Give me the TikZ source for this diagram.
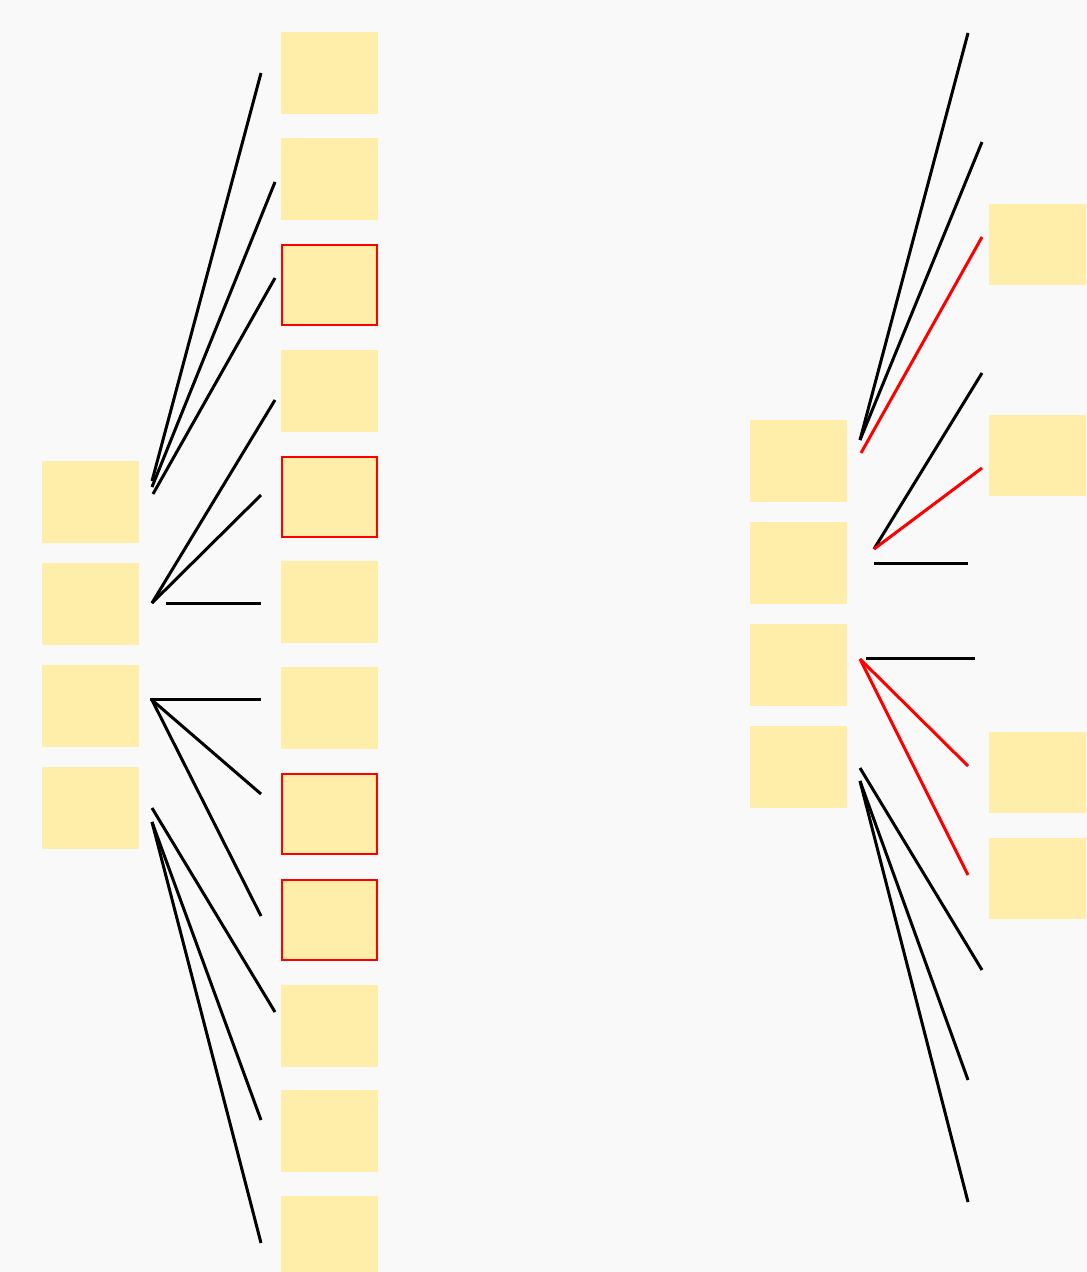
\documentclass[tikz,border=0pt]{standalone}
\definecolor{bg}{HTML}{F9F9F9}
\definecolor{boxfill}{HTML}{FFEEAA}
\tikzset{
  box/.style={fill=boxfill, draw=none, minimum width=97pt, minimum height=82pt, inner sep=0pt, anchor=north west, outer sep=0pt},
  redbox/.style={box, draw=red, line width=2pt, minimum width=95pt, minimum height=80pt},
  conn/.style={line width=3pt, black},
  rconn/.style={line width=3pt, red},
}
\begin{document}
\begin{tikzpicture}[x=1pt,y=-1pt]
\useasboundingbox (0,0) rectangle (1087,1272);
\fill[bg] (0,0) rectangle (1087,1272);
\clip (0,0) rectangle (1087,1272);
% left column
\node[box] (L1) at (42,461) {};
\node[box] (L2) at (42,563) {};
\node[box] (L3) at (42,665) {};
\node[box] (L4) at (42,767) {};
% middle column
\node[box] (M1) at (281,32) {};
\node[box] (M2) at (281,138) {};
\node[redbox] (M3) at (282,245) {};
\node[box] (M4) at (281,350) {};
\node[redbox] (M5) at (282,457) {};
\node[box] (M6) at (281,561) {};
\node[box] (M7) at (281,667) {};
\node[redbox] (M8) at (282,774) {};
\node[redbox] (M9) at (282,880) {};
\node[box] (M10) at (281,985) {};
\node[box] (M11) at (281,1090) {};
\node[box] (M12) at (281,1196) {};
% right-left column
\node[box] (R1) at (750,420) {};
\node[box] (R2) at (750,522) {};
\node[box] (R3) at (750,624) {};
\node[box] (R4) at (750,726) {};
% right column
\node[box, minimum height=81pt] (S1) at (989,204) {};
\node[box, minimum height=81pt] (S2) at (989,415) {};
\node[box, minimum height=81pt] (S3) at (989,732) {};
\node[box, minimum height=81pt] (S4) at (989,838) {};
% left fans
\coordinate (a1) at (152,481); \coordinate (a1e) at (261,73);
\coordinate (a2) at (152,487); \coordinate (a2e) at (275,182);
\coordinate (a3) at (153,494); \coordinate (a3e) at (275,278);
\draw[conn] (a1) -- (a1e);
\draw[conn] (a2) -- (a2e);
\draw[conn] (a3) -- (a3e);
\coordinate (b0) at (152,603);
\coordinate (b1e) at (275,400); \coordinate (b2e) at (261,495);
\coordinate (b3) at (166,603); \coordinate (b3e) at (261,603);
\draw[conn] (b0) -- (b1e);
\draw[conn] (b0) -- (b2e);
\draw[conn] (b3) -- (b3e);
\coordinate (c0) at (150,699); \coordinate (c1e) at (261,699);
\coordinate (c2) at (152,700); \coordinate (c2e) at (261,794); \coordinate (c3e) at (261,916);
\draw[conn] (c0) -- (c1e);
\draw[conn] (c2) -- (c2e);
\draw[conn] (c2) -- (c3e);
\coordinate (d1) at (152,808); \coordinate (d1e) at (275,1012);
\coordinate (d2) at (152,822); \coordinate (d2e) at (261,1120); \coordinate (d3e) at (261,1243);
\draw[conn] (d1) -- (d1e);
\draw[conn] (d2) -- (d2e);
\draw[conn] (d2) -- (d3e);
% right fans
\coordinate (e0) at (860,440); \coordinate (e1e) at (968,33); \coordinate (e2e) at (982,142);
\coordinate (e3) at (861,453); \coordinate (e3e) at (982,237);
\draw[conn] (e0) -- (e1e);
\draw[conn] (e0) -- (e2e);
\draw[rconn] (e3) -- (e3e);
\coordinate (f0) at (874,549); \coordinate (f1e) at (982,373); \coordinate (f2e) at (982,468);
\coordinate (f3) at (874,563); \coordinate (f3e) at (968,563);
\draw[conn] (f0) -- (f1e);
\draw[rconn] (f0) -- (f2e);
\draw[conn] (f3) -- (f3e);
\coordinate (g1) at (866,658); \coordinate (g1e) at (975,658);
\coordinate (g0) at (860,659); \coordinate (g2e) at (968,766); \coordinate (g3e) at (968,875);
\draw[conn] (g1) -- (g1e);
\draw[rconn] (g0) -- (g2e);
\draw[rconn] (g0) -- (g3e);
\coordinate (h1) at (860,768); \coordinate (h1e) at (982,970);
\coordinate (h2) at (860,781); \coordinate (h2e) at (968,1080); \coordinate (h3e) at (968,1202);
\draw[conn] (h1) -- (h1e);
\draw[conn] (h2) -- (h2e);
\draw[conn] (h2) -- (h3e);
\end{tikzpicture}
\end{document}
